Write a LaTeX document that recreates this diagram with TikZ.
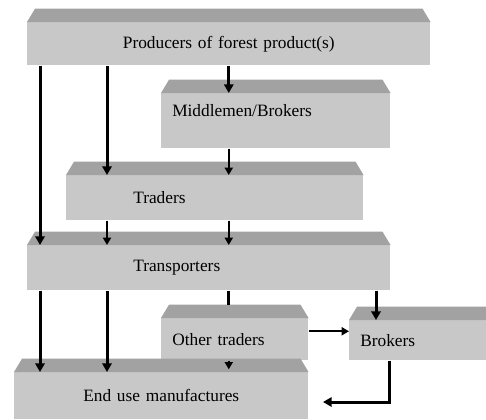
\documentclass[tikz,border=0pt]{standalone}
\usepackage{fontspec}
\setmainfont{Liberation Serif}
\usetikzlibrary{arrows.meta}
\definecolor{facegray}{HTML}{C8C8C8}
\definecolor{bevelgray}{HTML}{A2A2A2}
\begin{document}
\begin{tikzpicture}[
        slab/.style={
            fill=facegray,
            anchor=north west,
            inner ysep=0pt,
            inner xsep=8.25pt,
            align=left,
            font=\fontsize{13}{15}\selectfont
        },
        bold arrow/.style={
            line width=2.25pt,
            -{Triangle[width=7pt,length=6.5pt]}
        },
        thin arrow/.style={
            line width=1.5pt,
            -{Triangle[width=6pt,length=5.5pt]}
        }
    ]
        \clip (0,0) rectangle (364.5pt,-314.25pt);

        \node[slab, align=center, text width=285.75pt, minimum height=32.25pt] (prod) at (20.25pt,-16.5pt) {Producers of forest product(s)};
        \node[slab, text width=155.25pt, minimum height=41.25pt, text depth=16pt] (mid) at (120.75pt,-69.75pt) {Middlemen/Brokers};
        \node[slab, inner xsep=50.25pt, text width=122.25pt, minimum height=33.75pt] (trad) at (49.5pt,-131.25pt) {Traders};
        \node[slab, inner xsep=79.5pt, text width=113.25pt, minimum height=33.75pt] (trans) at (20.25pt,-183.75pt) {Transporters};
        \node[slab, text width=93.75pt, minimum height=31.5pt] (other) at (120.75pt,-238.5pt) {Other traders};
        \node[slab, text width=93.75pt, minimum height=30pt] (brok) at (261.75pt,-240pt) {Brokers};
        \node[slab, align=center, text width=204pt, minimum height=35.25pt] (enduse) at (10.5pt,-279pt) {End use manufactures};

        \foreach \n in {prod,mid,trad,trans,other,brok,enduse}
            \fill[bevelgray] (\n.north west) -- ([xshift=6pt,yshift=10pt]\n.north west)
                -- ([xshift=-6pt,yshift=10pt]\n.north east) -- (\n.north east) -- cycle;

        \coordinate (back) at (242.25pt,-301.5pt);

        \draw[bold arrow] (prod.south) -- (prod.south |- mid.north);
        \draw[bold arrow] ([xshift=60pt]prod.south west) -- ([xshift=60pt]prod.south west |- trad.north);
        \draw[bold arrow] ([xshift=9.75pt]prod.south west) -- ([xshift=9.75pt]prod.south west |- trans.north);
        \draw[thin arrow] (prod.south |- mid.south) -- (prod.south |- trad.north);
        \draw[thin arrow] ([xshift=60pt]prod.south west |- trad.south) -- ([xshift=60pt]prod.south west |- trans.north);
        \draw[thin arrow] (prod.south |- trad.south) -- (prod.south |- trans.north);
        \draw[bold arrow] ([xshift=9.75pt]trans.south west) -- ([xshift=9.75pt]trans.south west |- enduse.north);
        \draw[bold arrow] ([xshift=60pt]trans.south west) -- ([xshift=60pt]trans.south west |- enduse.north);
        \draw[line width=2.25pt] (prod.south |- trans.south) -- ([yshift=10pt]prod.south |- other.north);
        \draw[bold arrow] ([xshift=20.25pt]brok.north west |- trans.south) -- ([xshift=20.25pt]brok.north west);
        \draw[thin arrow] ([yshift=6pt]other.east) -- ([yshift=6pt]other.east -| brok.west);
        \draw[thin arrow, shorten >=2pt] (prod.south |- other.south) -- (prod.south |- enduse.north);
        \draw[bold arrow] ([xshift=30pt]brok.south west) |- (back);
    \end{tikzpicture}
\end{document}
